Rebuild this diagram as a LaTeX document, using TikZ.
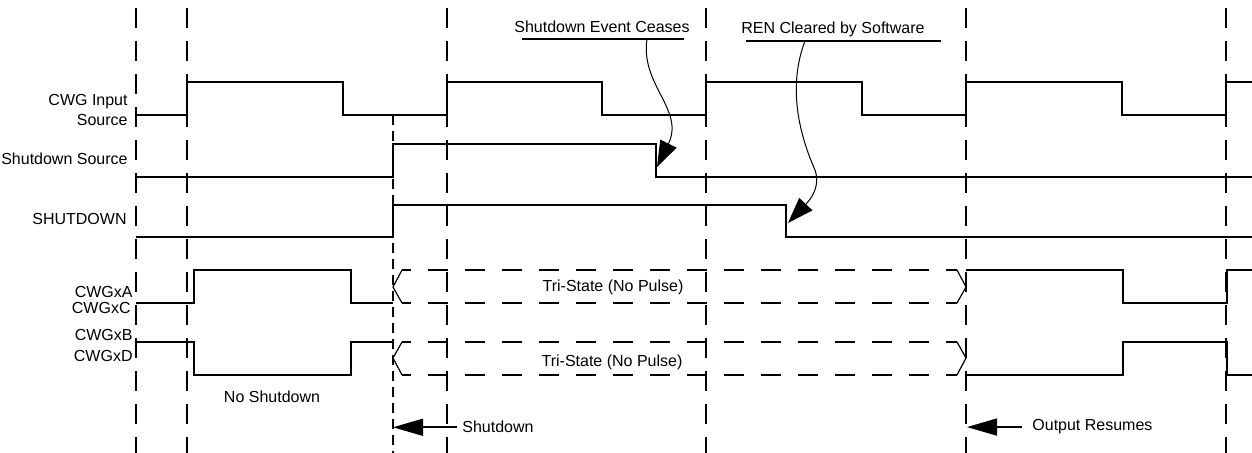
\documentclass[tikz,border=0pt]{standalone}
\usepackage{fontspec}
\setmainfont{Liberation Sans}
\usepackage{tikz}
\usetikzlibrary{arrows.meta,positioning,calc}
\newcommand{\gridmark}[1]{\draw[gridline] (#1,8) -- (#1,453);}
\newcommand{\tribus}[3]{\draw[tsedge] (402,#1) -- (393,#2) -- (402,#3) (957,#1) -- (966,#2) -- (957,#3);
  \draw[tsline] (402,#1) -- (957,#1) (402,#3) -- (957,#3);}

\begin{document}
\begin{tikzpicture}[x=0.5pt,y=-0.5pt,
  wave/.style={line width=1pt,line join=miter},
  gridline/.style={line width=1pt,dash pattern=on 10pt off 6.5pt},
  sdline/.style={line width=0.7pt,dash pattern=on 5pt off 3pt},
  tsline/.style={line width=1pt,dash pattern=on 10pt off 8.5pt,dash phase=5.5pt},
  tsedge/.style={line width=0.6pt},
  uline/.style={line width=0.8pt},
  lbl/.style={font=\fontsize{8}{9.6}\selectfont,inner sep=0pt},
  note/.style={line width=0.5pt,-{Triangle[length=13pt,width=9pt]}},
  pointer/.style={line width=0.8pt,-{Triangle[length=15pt,width=8.5pt]}}]
\useasboundingbox (0,0) rectangle (1252,453);
% time grid
\gridmark{136}\gridmark{187}\gridmark{447}\gridmark{706}\gridmark{966}\gridmark{1226}
\draw[sdline] (393,115) -- (393,453);
% signal names
\node[lbl,anchor=base east] (inA) at (128,106) {CWG Input};
\node[lbl,anchor=base east] (inB) at (128,126) {Source};
\node[lbl,anchor=base east] (sdsrc) at (128,165) {Shutdown Source};
\node[lbl,anchor=base east] (sdn) at (127,225) {SHUTDOWN};
\node[lbl,anchor=base east] (outA) at (133,298) {CWGxA};
\node[lbl,anchor=base east] (outC) at (131,314) {CWGxC};
\node[lbl,anchor=base east] (outB) at (133,341) {CWGxB};
\node[lbl,anchor=base east] (outD) at (133,362) {CWGxD};
% waveforms
\draw[wave] (136,115) -- (187,115) -- (187,82) -- (343,82) -- (343,115) -- (447,115) -- (447,82) -- (602,82) -- (602,115) -- (706,115) -- (706,82) -- (862,82) -- (862,115) -- (966,115) -- (966,82) -- (1122,82) -- (1122,115) -- (1226,115) -- (1226,82) -- (1252,82);
\draw[wave] (136,177) -- (393,177) -- (393,144) -- (656,144) -- (656,177) -- (1252,177);
\draw[wave] (136,237) -- (393,237) -- (393,205) -- (786,205) -- (786,237) -- (1252,237);
\draw[wave] (136,303) -- (194,303) -- (194,270) -- (351,270) -- (351,303) -- (393,303);
\draw[wave] (966,270) -- (1123,270) -- (1123,303) -- (1227,303) -- (1227,270) -- (1252,270);
\draw[wave] (136,342) -- (194,342) -- (194,375) -- (351,375) -- (351,342) -- (393,342);
\draw[wave] (966,375) -- (1123,375) -- (1123,342) -- (1227,342) -- (1227,375) -- (1252,375);
\tribus{270}{287}{303}\tribus{342}{358}{375}
\node[lbl,anchor=base] (triA) at (613,292) {Tri-State (No Pulse)};
\node[lbl,anchor=base] (triB) at (612,367) {Tri-State (No Pulse)};
\node[lbl,anchor=base] (noshut) at (272,403) {No Shutdown};
% callouts
\node[lbl,anchor=base] (ceasetxt) at (602,33) {Shutdown Event Ceases};
\draw[uline] (522,39) -- (684,39);
\coordinate (ceasefrom) at (647,39); \coordinate (ceaseto) at (657,167);
\draw[note] (ceasefrom) .. controls (640,85) and (685,110) .. (ceaseto);
\node[lbl,anchor=base] (rentxt) at (833,34) {REN Cleared by Software};
\draw[uline] (746,41) -- (941,41);
\coordinate (renfrom) at (805,41); \coordinate (rento) at (788,223);
\draw[note] (renfrom) .. controls (790,80) and (795,125) .. (815,170) .. controls (822,190) and (805,205) .. (rento);
\node[lbl,anchor=base west] (sdtxt) at (462,433) {Shutdown};
\coordinate (sdtip) at (393,428);
\draw[pointer,shorten <=2.5pt] (sdtxt.west) -- (sdtxt.west -| sdtip);
\node[lbl,anchor=base west] (restxt) at (1032,431) {Output Resumes};
\coordinate (restip) at (967,426);
\draw[pointer,shorten <=5pt] (restxt.west) -- (restxt.west -| restip);
\end{tikzpicture}
\end{document}
